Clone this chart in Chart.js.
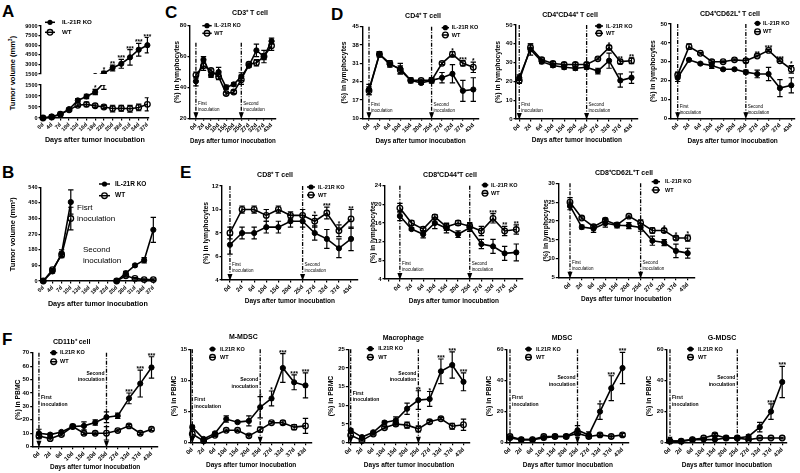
<!DOCTYPE html>
<html>
<head>
<meta charset="utf-8">
<script src="https://cdn.jsdelivr.net/npm/chart.js@4.4.1/dist/chart.umd.min.js"></script>
<style>
  body { margin: 0; width: 800px; height: 473px; position: relative; overflow: hidden; background: #fff; font-family: "Liberation Sans", Arial, sans-serif; }
  canvas { position: absolute; }
  .letter { position: absolute; font-weight: bold; font-size: 17px; line-height: 1; }
  .ytitle { position: absolute; width: 120px; text-align: center; font-weight: bold; font-size: 7.5px; transform: translate(-50%, -50%) rotate(-90deg); white-space: nowrap; }
</style>
</head>
<body>
<div class="letter" style="left:2px;top:3px">A</div>
<div class="letter" style="left:2px;top:164px">B</div>
<div class="letter" style="left:165px;top:4px">C</div>
<div class="letter" style="left:331px;top:6px">D</div>
<div class="letter" style="left:180px;top:164px">E</div>
<div class="letter" style="left:2px;top:331px">F</div>
<div class="ytitle" style="left:12px;top:73px">Tumor volume (mm<sup style="font-size:5px">3</sup>)</div>
<script>
/* ---- data ---- */
const days = ["0d", "2d", "6d", "10d", "15d", "20d", "25d", "27d", "32d", "37d", "43d"];
const tumorDays = ["0d", "4d", "7d", "10d", "13d", "16d", "19d", "22d", "25d", "28d", "31d", "34d", "37d"];

// A - tumor volume
const tumorKO = [0, 60, 170, 400, 800, 980, 1180, 1600, 2450, 3100, 4100, 5300, 6000];
const tumorKOErr = [0, 10, 20, 40, 80, 100, 120, 300, 450, 700, 1200, 1000, 1200];
const tumorWT = [0, 50, 170, 370, 580, 620, 560, 500, 430, 440, 420, 480, 620];
const tumorWTErr = [0, 10, 20, 40, 60, 100, 80, 70, 150, 130, 150, 150, 300];
const tumorStars = ["", "", "", "", "", "", "*", "*", "**", "***", "***", "***", "***"];

// B - rechallenge
const rechKO = [0, 55, 160, 455, null, null, null, null, 0, 45, 90, 120, 295];
const rechKOErr = [0, 8, 20, 70, 0, 0, 0, 0, 0, 10, 8, 15, 72];
const rechWT = [0, 65, 150, 360, null, null, null, null, 0, 30, 15, 8, 8];
const rechWTErr = [0, 8, 15, 65, 0, 0, 0, 0, 0, 8, 5, 4, 4];

// C - CD3+
const cd3KO = [44, 58, 48, 50, 40, 42, 47, 54, 64, 60, 70];
const cd3KOErr = [3, 2, 1.5, 3, 1.5, 1, 2.5, 1, 4, 2, 2];
const cd3WT = [48, 54, 51, 47, 36, 37, 45, 55, 56, 60, 67];
const cd3WTErr = [2, 3, 1, 2, 1, 1, 3, 1, 2, 4, 3];

// D - CD4+
const cd4KO = [21, 34.5, 30.5, 29, 24.5, 23.5, 24.5, 25.5, 27, 20.5, 21];
const cd4KOErr = [2, 1, 1, 2, 1, 0.5, 1, 2, 3.5, 4, 4.5];
const cd4WT = [20.5, 34.5, 31, 28.5, 24.5, 24.5, 24.5, 31, 34.5, 31, 29.5];
const cd4WTErr = [1.5, 1, 1, 1.5, 0.5, 0.5, 1, 0.5, 1, 1, 2];
const cd4Stars = ["", "", "", "", "", "", "", "", "*", "***", "*"];

const cd4cd44KO = [22, 37, 30.5, 28.5, 27.5, 27, 27.5, 25.5, 31, 20.5, 22];
const cd4cd44KOErr = [1.5, 3, 1, 1, 1, 1, 1, 1.5, 4, 3.5, 3];
const cd4cd44WT = [20.5, 38, 31.5, 29.5, 29, 29, 29, 32, 38, 30.5, 31];
const cd4cd44WTErr = [1.5, 2, 1, 1, 1, 1, 1, 0.5, 1, 1, 1.5];
const cd4cd44Stars = ["", "", "", "", "", "", "", "", "*", "**", "**"];

const cd4cd62KO = [21.5, 31, 29, 28, 26, 26, 24.5, 23.5, 23.5, 16, 17.5];
const cd4cd62KOErr = [2, 0.5, 0.5, 1.5, 0.5, 0.5, 1, 2, 3.5, 4.5, 4];
const cd4cd62WT = [23, 38, 34.5, 30, 30, 31, 30.5, 33, 36, 30.5, 26];
const cd4cd62WTErr = [1.5, 1.5, 0.5, 1, 0.5, 0.5, 1, 0.5, 0.5, 0.5, 2];
const cd4cd62Stars = ["", "", "", "", "", "", "", "**", "***", "***", "*"];

// E - CD8+
const cd8KO = [7, 8, 8, 8.5, 8.5, 9, 9, 8, 7.5, 6.7, 7.5];
const cd8KOErr = [0.8, 0.5, 0.5, 0.5, 0.5, 0.5, 0.5, 0.6, 0.8, 0.8, 1];
const cd8WT = [8, 10, 10, 9.5, 10, 9.5, 9.5, 9, 9.7, 8.2, 9.2];
const cd8WTErr = [0.5, 0.3, 0.3, 0.5, 0.3, 0.3, 0.5, 0.5, 0.5, 0.5, 0.8];
const cd8Stars = ["", "", "", "", "", "", "", "*", "***", "*", "**"];

const cd8cd44KO = [17.5, 14.7, 13.6, 16, 14.9, 13.6, 15, 11.5, 11, 9.5, 9.7];
const cd8cd44KOErr = [1, 0.3, 0.8, 1.2, 1, 0.7, 0.8, 1, 1.5, 1.5, 1.8];
const cd8cd44WT = [19.2, 16, 14.7, 17.3, 15.2, 16, 15.3, 14.3, 17, 14.3, 14.6];
const cd8cd44WTErr = [1, 0.5, 0.5, 0.5, 0.8, 0.5, 0.8, 1, 1, 1, 1];
const cd8cd44Stars = ["", "", "", "", "", "", "", "", "***", "**", "**"];

const cd8cd62KO = [24, 18.4, 18, 19.4, 18.9, 18.8, 18.3, 14.8, 14.3, 12.1, 11.5];
const cd8cd62KOErr = [1, 0.5, 1, 1, 0.7, 0.8, 1, 1.2, 0.8, 1.8, 1.3];
const cd8cd62WT = [25, 20.8, 18.5, 20.2, 19, 21.3, 19.5, 17.5, 17.5, 15.5, 15.5];
const cd8cd62WTErr = [1.2, 0.3, 0.5, 0.5, 0.5, 0.3, 0.8, 0.7, 0.5, 0.5, 0.8];
const cd8cd62Stars = ["", "", "", "", "", "", "", "", "*", "*", "*"];

// F - myeloid cells in PBMC
const cd11bKO = [10, 9, 11, 15, 15.5, 18, 22, 23, 36, 47, 59];
const cd11bKOErr = [3, 1, 1, 1, 3, 2, 4, 2, 4, 10, 8];
const cd11bWT = [8, 6, 9, 15, 10, 10, 10, 12, 15.5, 10, 13];
const cd11bWTErr = [2, 1, 1, 1, 1, 1, 5, 1, 1, 1, 1];
const cd11bStars = ["", "", "", "", "", "", "", "", "***", "***", "***"];

const mmdscKO = [2.5, 0.6, 1.5, 3.8, 3.3, 3.5, 5.7, 7.1, 12, 9.7, 9.2];
const mmdscKOErr = [0.3, 0.2, 0.2, 0.5, 0.2, 0.8, 1.7, 1.2, 2.3, 1.2, 2];
const mmdscWT = [1.4, 0.3, 1.2, 2, 2, 1.1, 2.1, 3.2, 3.2, 2.5, 2.7];
const mmdscWTErr = [0.5, 0.1, 0.2, 0.2, 0.2, 0.2, 0.4, 0.2, 0.3, 0.4, 1.2];
const mmdscStars = ["", "", "", "", "", "", "*", "*", "***", "***", "***"];

const macKO = [3.3, 1.5, 2.8, 5.4, 6, 9.1, 11.4, 11.7, 19.1, 20.8, 16.3];
const macKOErr = [0.4, 0.3, 0.3, 0.4, 0.9, 1.5, 2.5, 2, 3.3, 3.5, 2.4];
const macWT = [2, 0.6, 2.3, 4, 5, 4.7, 3.7, 5.6, 6.4, 4.4, 4.8];
const macWTErr = [0.5, 0.2, 0.3, 0.3, 0.5, 0.8, 0.8, 0.4, 0.3, 0.8, 1.5];
const macStars = ["", "", "", "", "", "", "**", "*", "***", "***", "***"];

const mdscKO = [3, 2, 2, 3, 4, 4, 8, 5, 20, 35, 48];
const mdscKOErr = [1, 0.5, 0.5, 1, 1, 1, 3, 2, 5, 8, 10];
const mdscWT = [4, 2, 2, 4, 4, 4, 6, 4, 5, 4, 5];
const mdscWTErr = [1, 0.5, 0.5, 1, 1, 1, 1, 1, 1, 1, 1];
const mdscStars = ["", "", "", "", "", "", "", "", "*", "***", "***"];

const gmdscKO = [1, 1, 2, 2, 2, 3, 3, 4, 10, 20, 39];
const gmdscKOErr = [0.5, 0.5, 0.5, 0.5, 0.5, 1, 1, 1, 3, 5, 10];
const gmdscWT = [1, 1, 2, 3, 5, 3, 3, 2, 3, 3, 3];
const gmdscWTErr = [0.5, 0.5, 0.5, 0.5, 1, 0.5, 0.5, 0.5, 0.5, 0.5, 0.5];
const gmdscStars = ["", "", "", "", "", "", "", "", "", "***", "***"];

/* ---- helpers ---- */
const FONT = '"Liberation Sans", Arial, sans-serif';
const font = (size, bold) => (bold ? "bold " : "") + size + "px " + FONT;
const XTITLE = "Days after tumor inocubation";

// draws error bars, inoculation lines, stars, panel title, legend and notes
const makeExtras = (cfg) => ({
  id: "extras",
  beforeDatasetsDraw(chart) {
    const { ctx, chartArea: a } = chart;
    const xs = chart.scales.x, ys = chart.scales.y;
    ctx.save();
    ctx.strokeStyle = "#000";
    ctx.fillStyle = "#000";
    (cfg.vlines || []).forEach((v) => {
      const x = xs.getPixelForValue(v.i);
      const yTop = v.top != null ? ys.getPixelForValue(v.top) : a.top;
      ctx.lineWidth = 1.3;
      ctx.setLineDash([4, 1.5, 1, 1.5]);
      ctx.beginPath();
      ctx.moveTo(x, yTop);
      ctx.lineTo(x, a.bottom - 5);
      ctx.stroke();
      ctx.setLineDash([]);
      ctx.beginPath();
      ctx.moveTo(x - 2.5, a.bottom - 6);
      ctx.lineTo(x + 2.5, a.bottom - 6);
      ctx.lineTo(x, a.bottom + 1);
      ctx.closePath();
      ctx.fill();
    });
    ctx.save();
    if (cfg.clipErr) {
      ctx.beginPath();
      ctx.rect(a.left, a.top, a.right - a.left, a.bottom - a.top);
      ctx.clip();
    }
    ctx.lineWidth = 1.2;
    cfg.series.forEach((arr, k) => {
      const meta = chart.getDatasetMeta(k);
      arr.forEach((v, j) => {
        const e = cfg.errs[k][j];
        if (v == null || !e) return;
        const x = meta.data[j].x;
        const y1 = ys.getPixelForValue(v + e), y2 = ys.getPixelForValue(v - e);
        ctx.beginPath();
        ctx.moveTo(x, y1); ctx.lineTo(x, y2);
        ctx.moveTo(x - 2.7, y1); ctx.lineTo(x + 2.7, y1);
        ctx.moveTo(x - 2.7, y2); ctx.lineTo(x + 2.7, y2);
        ctx.stroke();
      });
    });
    ctx.restore();
    ctx.restore();
  },
  afterDatasetsDraw(chart) {
    const { ctx, chartArea: a } = chart;
    const xs = chart.scales.x, ys = chart.scales.y;
    const L = cfg.L, T = cfg.T;
    ctx.save();
    ctx.fillStyle = "#000";
    ctx.strokeStyle = "#000";
    // significance stars
    ctx.font = font(6.5, true);
    ctx.textAlign = "center";
    ctx.textBaseline = "alphabetic";
    (cfg.stars || []).forEach((st, j) => {
      if (!st) return;
      let top = Infinity;
      cfg.series.forEach((arr, k) => {
        if (arr[j] != null) top = Math.min(top, ys.getPixelForValue(arr[j] + (cfg.errs[k][j] || 0)));
      });
      if (cfg.starClip && (top > a.bottom || top < a.top - 3)) return;
      ctx.fillText(st, xs.getPixelForValue(j), top + 1);
    });
    // inoculation notes
    (cfg.vlines || []).forEach((v) => {
      if (v.dy == null) return;
      const x = xs.getPixelForValue(v.i);
      ctx.font = font(cfg.noteSize || 4.5, cfg.noteBold);
      ctx.textBaseline = "middle";
      ctx.textAlign = v.left ? "right" : "left";
      const tx = v.left ? x - 2 : x + 2;
      ctx.fillText(v.i === 0 ? "First" : "Second", tx, a.bottom + v.dy);
      ctx.fillText("inoculation", tx, a.bottom + v.dy + (cfg.noteGap || 6));
    });
    // free texts
    (cfg.texts || []).forEach((t) => {
      ctx.font = t.font;
      ctx.textAlign = "left";
      ctx.textBaseline = "middle";
      ctx.fillText(t.t, t.x - L, t.y - T);
    });
    // title
    if (cfg.title) {
      ctx.font = font(cfg.titleSize || 7, true);
      ctx.textAlign = "center";
      ctx.textBaseline = "middle";
      ctx.fillText(cfg.title[0], cfg.title[1] - L, cfg.title[2] - T);
    }
    // legend
    if (cfg.leg) {
      const lg = cfg.leg;
      ctx.font = font(lg.size || 5.5, true);
      ctx.textAlign = "left";
      ctx.textBaseline = "middle";
      lg.y.forEach((yy, k) => {
        const y = yy - T, x1 = lg.lx - L, x2 = lg.lx2 - L, xm = (x1 + x2) / 2;
        ctx.lineWidth = 1.5;
        ctx.beginPath();
        ctx.moveTo(x1, y); ctx.lineTo(x2, y);
        ctx.stroke();
        ctx.beginPath();
        ctx.arc(xm, y, k === 0 ? 2.6 : 2.8, 0, Math.PI * 2);
        if (k === 0) ctx.fill();
        else { ctx.lineWidth = 1.3; ctx.stroke(); }
        ctx.fillText(lg.names[k], lg.tx - L, y);
      });
    }
    ctx.restore();
  },
});

function makePanel(g, s) {
  const n = s.labels.length;
  const sp = (g.last - g.first) / (n - 1);
  const padR = g.padR != null ? g.padR : 0.55;
  const xr = g.last + sp * padR;
  let T = g.top - 6;
  if (s.title) T = Math.min(T, s.title[2] - 6);
  if (s.leg) T = Math.min(T, s.leg.y[0] - 5);
  if (g.T != null) T = g.T;
  T = Math.floor(T);
  const L = Math.floor(g.yt != null ? g.yt - 4.2 : g.ax - 30);
  let R = xr + 4;
  if (s.leg) R = Math.max(R, s.leg.tx + 36);
  R = Math.min(800, Math.ceil(R));
  const hasX = g.xt != null;
  const B = Math.ceil(hasX ? g.xt + (s.xTitleSize || 6.5) * 0.6 : g.bottom + 4);

  const cv = document.createElement("canvas");
  cv.width = R - L;
  cv.height = B - T;
  cv.style.left = L + "px";
  cv.style.top = T + "px";
  cv.style.width = R - L + "px";
  cv.style.height = B - T + "px";
  document.body.appendChild(cv);

  const yw = g.ax - L, pt = g.top - T, pr = R - xr, xh = B - g.bottom;
  const tickFont = { size: s.tickSize || 6, weight: "bold", family: FONT };
  const clip = hasX ? { left: 8, right: 8, top: 8, bottom: 8 } : { left: 8, right: 8, top: 8, bottom: 0 };
  const dsClip = s.clipTop0 ? { left: 8, right: 8, top: 0, bottom: 8 } : clip;
  const datasets = [
    { data: s.series[0].map((v, i) => ({ x: i, y: v })), borderColor: "#000", borderWidth: 1.6,
      pointRadius: 2.6, pointBackgroundColor: "#000", pointBorderColor: "#000", pointBorderWidth: 1, spanGaps: false, clip: dsClip },
    { data: s.series[1].map((v, i) => ({ x: i, y: v })), borderColor: "#000", borderWidth: 1.6,
      pointRadius: 2.8, pointBackgroundColor: "rgba(0,0,0,0)", pointBorderColor: "#000", pointBorderWidth: 1.3, spanGaps: false, clip: dsClip },
  ];

  new Chart(cv, {
    type: "line",
    data: { datasets },
    options: {
      responsive: false,
      animation: false,
      events: [],
      layout: { padding: { left: 0, top: pt, right: pr, bottom: hasX ? 0 : 4 } },
      plugins: { legend: { display: false }, tooltip: { enabled: false } },
      scales: {
        x: {
          type: "linear",
          display: hasX,
          min: -(g.first - g.ax) / sp,
          max: n - 1 + padR,
          afterFit: (sc) => { sc.height = xh; },
          border: { color: "#000", width: 1.4 },
          grid: { display: true, drawOnChartArea: false, drawTicks: true, tickLength: 2.5, color: "#000", lineWidth: 1.2 },
          ticks: {
            stepSize: 1, autoSkip: false, includeBounds: false, minRotation: 45, maxRotation: 45, padding: 1,
            color: "#000", font: tickFont,
            callback: (v) => (s.labels[v] !== undefined ? s.labels[v] : ""),
          },
          title: { display: hasX, text: XTITLE, padding: 0, color: "#000", font: { size: s.xTitleSize || 6.5, weight: "bold", family: FONT } },
        },
        y: {
          min: s.yMin,
          max: s.yMax,
          afterFit: (sc) => { sc.width = yw; },
          border: { color: "#000", width: 1.4 },
          grid: { display: true, drawOnChartArea: false, drawTicks: true, tickLength: 2.5, color: "#000", lineWidth: 1.2 },
          ticks: { stepSize: s.yStep, autoSkip: false, padding: 1, color: "#000", font: tickFont, callback: (v) => String(v) },
          title: { display: !!s.yTitle, text: s.yTitle || "", padding: 0, color: "#000", font: { size: s.yTitleSize || 6.8, weight: "bold", family: FONT } },
        },
      },
    },
    plugins: [makeExtras({ ...s, L, T })],
  });
}

const legA = ["IL-21R KO", "WT"];
const legF = ["IL21R KO", "WT"];
const lymph = "(%) in lymphocytes";
const pbmc = "(%) in PBMC";
const std = (dy, top) => [{ i: 0, top, dy }, { i: 6, top, dy }];
const fst = (dy1, dy2) => [{ i: 0, dy: dy1 }, { i: 6, dy: dy2, left: true }];

/* ---- A (broken y axis: two stacked charts) ---- */
makePanel({ ax: 41, top: 26, bottom: 78, first: 43, last: 147.7, padR: 0.15, T: 12 }, {
  labels: tumorDays, series: [tumorKO, tumorWT], errs: [tumorKOErr, tumorWTErr], stars: tumorStars, starClip: true, clipErr: true,
  yMin: 1500, yMax: 9000, yStep: 1500, tickSize: 5.5,
  leg: { lx: 45, lx2: 55, tx: 62, y: [22.3, 32.3], names: legA, size: 6.2 },
});
makePanel({ ax: 41, top: 85, bottom: 118, first: 43, last: 147.7, padR: 0.15, xt: 139, T: 73 }, {
  labels: tumorDays, series: [tumorKO, tumorWT], errs: [tumorKOErr, tumorWTErr], stars: tumorStars, starClip: true, clipErr: true, clipTop0: true,
  yMin: 0, yMax: 1500, yStep: 500, tickSize: 5.5, xTitleSize: 7.2,
});

/* ---- B ---- */
makePanel({ ax: 41, top: 187.3, bottom: 281, first: 43.3, last: 154.3, padR: 0.15, xt: 302.7, yt: 12.5 }, {
  labels: tumorDays, series: [rechKO, rechWT], errs: [rechKOErr, rechWTErr],
  yMin: 0, yMax: 540, yStep: 90, tickSize: 5.5, xTitleSize: 7.2, yTitle: "Tumor volume (mm³)", yTitleSize: 7.5,
  leg: { lx: 99, lx2: 110, tx: 115, y: [184, 195.7], names: legA, size: 6.5 },
  texts: [
    { t: "Fisrt", x: 77, y: 208, font: font(8) }, { t: "inoculation", x: 77, y: 219, font: font(8) },
    { t: "Second", x: 83, y: 250, font: font(8) }, { t: "inoculation", x: 83, y: 261, font: font(8) },
  ],
});

/* ---- C ---- */
makePanel({ ax: 190, top: 25.7, bottom: 118.3, first: 196, last: 272.7, xt: 140.7, yt: 177.5 }, {
  labels: days, series: [cd3KO, cd3WT], errs: [cd3KOErr, cd3WTErr],
  yMin: 20, yMax: 80, yStep: 20, yTitle: lymph, title: ["CD3⁺ T cell", 250, 13.3],
  leg: { lx: 202.3, lx2: 211.7, tx: 214.3, y: [25.7, 33.3], names: legA },
  vlines: std(-14.3, 69),
});

/* ---- D ---- */
makePanel({ ax: 362.3, top: 26.7, bottom: 118.3, first: 369, last: 473.3, xt: 140.7, yt: 345 }, {
  labels: days, series: [cd4KO, cd4WT], errs: [cd4KOErr, cd4WTErr], stars: cd4Stars,
  yMin: 10, yMax: 45, yStep: 7, yTitle: lymph, title: ["CD4⁺ T cell", 423, 15.7],
  leg: { lx: 441.7, lx2: 449, tx: 451.7, y: [27.7, 35], names: legA },
  vlines: std(-14),
});
makePanel({ ax: 516, top: 25, bottom: 119, first: 519.3, last: 632.7, xt: 140, yt: 498.3 }, {
  labels: days, series: [cd4cd44KO, cd4cd44WT], errs: [cd4cd44KOErr, cd4cd44WTErr], stars: cd4cd44Stars,
  yMin: 0, yMax: 50, yStep: 10, yTitle: lymph, title: ["CD4⁺CD44⁺ T cell", 570, 15],
  leg: { lx: 595, lx2: 603, tx: 606, y: [26, 33.3], names: legA },
  vlines: std(-14.7),
});
makePanel({ ax: 670.7, top: 24, bottom: 118.3, first: 677.7, last: 791.7, xt: 140.7, yt: 653.3, padR: 0.3 }, {
  labels: days, series: [cd4cd62KO, cd4cd62WT], errs: [cd4cd62KOErr, cd4cd62WTErr], stars: cd4cd62Stars,
  yMin: 0, yMax: 50, yStep: 10, yTitle: lymph, title: ["CD4⁺CD62L⁺ T cell", 730, 14],
  leg: { lx: 754.3, lx2: 760.7, tx: 763, y: [23.3, 31.7], names: legA },
  vlines: std(-12),
});

/* ---- E ---- */
makePanel({ ax: 222, top: 186, bottom: 280, first: 230, last: 351.7, xt: 301, yt: 207 }, {
  labels: days, series: [cd8KO, cd8WT], errs: [cd8KOErr, cd8WTErr], stars: cd8Stars,
  yMin: 4, yMax: 12, yStep: 2, yTitle: lymph, title: ["CD8⁺ T cell", 275, 175],
  leg: { lx: 307, lx2: 315, tx: 318, y: [187, 195], names: legA },
  vlines: std(-15),
});
makePanel({ ax: 385, top: 185.7, bottom: 279, first: 400, last: 517.3, xt: 300.7, yt: 374 }, {
  labels: days, series: [cd8cd44KO, cd8cd44WT], errs: [cd8cd44KOErr, cd8cd44WTErr], stars: cd8cd44Stars,
  yMin: 4, yMax: 24, yStep: 4, yTitle: lymph, title: ["CD8⁺CD44⁺T cell", 450, 175],
  leg: { lx: 481.7, lx2: 488.3, tx: 491, y: [185, 193.3], names: legA },
  vlines: std(-15.7),
});
makePanel({ ax: 558.3, top: 183.3, bottom: 277.7, first: 570, last: 687.7, xt: 299, yt: 546.7 }, {
  labels: days, series: [cd8cd62KO, cd8cd62WT], errs: [cd8cd62KOErr, cd8cd62WTErr], stars: cd8cd62Stars,
  yMin: 5, yMax: 30, yStep: 5, yTitle: lymph, title: ["CD8⁺CD62L⁺T cell", 624, 172.7],
  leg: { lx: 651.7, lx2: 660, tx: 665, y: [181.7, 190], names: legA },
  vlines: std(-15),
});

/* ---- F ---- */
const fNotes = { noteSize: 5, noteBold: true, noteGap: 6.5 };
makePanel({ ax: 32.7, top: 352.7, bottom: 446.7, first: 39, last: 152.7, xt: 466.7, yt: 19 }, {
  ...fNotes, labels: days, series: [cd11bKO, cd11bWT], errs: [cd11bKOErr, cd11bWTErr], stars: cd11bStars,
  yMin: 0, yMax: 70, yStep: 10, yTitle: pbmc, title: ["CD11b⁺ cell", 71.7, 341.7],
  leg: { lx: 50, lx2: 57.3, tx: 60, y: [352.7, 361.7], names: legF },
  vlines: fst(-49, -73.4),
});
makePanel({ ax: 190.7, top: 349.3, bottom: 442.7, first: 192.3, last: 306, xt: 464.3, yt: 175 }, {
  ...fNotes, labels: days, series: [mmdscKO, mmdscWT], errs: [mmdscKOErr, mmdscWTErr], stars: mmdscStars,
  yMin: 0, yMax: 15, yStep: 5, yTitle: pbmc, title: ["M-MDSC", 243.3, 336.7],
  leg: { lx: 209.3, lx2: 215.7, tx: 220, y: [349, 357.3], names: legF },
  vlines: fst(-42.7, -62.7),
});
makePanel({ ax: 348.3, top: 349.3, bottom: 442.7, first: 350.7, last: 464.3, xt: 464.3, yt: 331.7 }, {
  ...fNotes, labels: days, series: [macKO, macWT], errs: [macKOErr, macWTErr], stars: macStars,
  yMin: 0, yMax: 25, yStep: 5, yTitle: pbmc, title: ["Macrophage", 403.3, 338.3],
  leg: { lx: 366.7, lx2: 374, tx: 378.3, y: [348.7, 357.3], names: legF },
  vlines: fst(-49.4, -69.4),
});
makePanel({ ax: 507, top: 349.3, bottom: 442.7, first: 510, last: 623, xt: 464.3, yt: 490 }, {
  ...fNotes, labels: days, series: [mdscKO, mdscWT], errs: [mdscKOErr, mdscWTErr], stars: mdscStars,
  yMin: 0, yMax: 60, yStep: 20, yTitle: pbmc, title: ["MDSC", 562, 338],
  leg: { lx: 525, lx2: 532, tx: 536, y: [349, 357.3], names: legF },
  vlines: fst(-45, -65),
});
makePanel({ ax: 667, top: 349.3, bottom: 442.7, first: 670, last: 783, xt: 464.3, yt: 650, padR: 0.4 }, {
  ...fNotes, labels: days, series: [gmdscKO, gmdscWT], errs: [gmdscKOErr, gmdscWTErr], stars: gmdscStars,
  yMin: 0, yMax: 60, yStep: 20, yTitle: pbmc, title: ["G-MDSC", 722, 338],
  leg: { lx: 687, lx2: 694, tx: 698, y: [349, 357.3], names: legF },
  vlines: fst(-45, -65),
});
</script>
</body>
</html>
